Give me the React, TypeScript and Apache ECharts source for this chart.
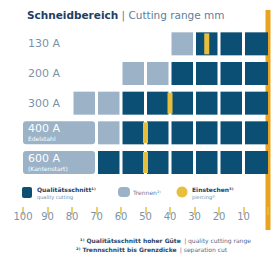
import React, { useEffect, useRef } from 'react';
import * as echarts from 'echarts';

// ---- data ----
const rows = ['130 A', '200 A', '300 A', '400 A', '600 A'];
const rowNotes = ['', '', '', 'Edelstahl', '(Kantenstart)'];
const severanceFrom = [40, 60, 80, 100, 100]; // light range start (mm)
const qualityFrom = [30, 40, 60, 60, 70]; // dark range start (mm)
const pierceAt: (number | null)[] = [25, null, 40, 50, 50];
const boxedTo: (number | null)[] = [null, null, null, 70, 70];
const tickValues = [100, 90, 80, 70, 60, 50, 40, 30, 20, 10];

const DARK = '#0c4f74';
const LIGHT = '#9bb2c7';
const YELLOW = '#e7bf3c';
const ORANGE = '#eaa31f';
const GREY = '#7b93a9';
const NAVY = '#1d3f63';

function buildItems() {
  const items: number[][] = [];
  const split = (a: number, b: number, r: number, k: number) => {
    let hi = a;
    while (hi > b) {
      const lo = Math.max(b, (Math.ceil(hi / 10) - 1) * 10);
      items.push([hi, lo, r, k]);
      hi = lo;
    }
  };
  rows.forEach((_, i) => {
    let lightStart = severanceFrom[i];
    const bt = boxedTo[i];
    if (bt != null) {
      items.push([lightStart, bt, i, 2]);
      lightStart = bt;
    }
    split(lightStart, qualityFrom[i], i, 1);
    split(qualityFrom[i], 0, i, 0);
  });
  rows.forEach((_, i) => {
    const p = pierceAt[i];
    if (p != null) items.push([p, p, i, 3]);
  });
  return items;
}

export default function App() {
  const ref = useRef<HTMLDivElement>(null);
  useEffect(() => {
    if (!ref.current) return;
    const chart = echarts.init(ref.current, null, { renderer: 'svg' });
    const font = 'DejaVu Sans';
    chart.setOption({
      animation: false,
      backgroundColor: '#ffffff',
      textStyle: { fontFamily: font },
      grid: { left: 23, right: 3, top: 29, bottom: 49 },
      xAxis: {
        type: 'value',
        inverse: true,
        min: 0,
        max: 100,
        interval: 10,
        axisLine: { show: false },
        splitLine: { show: false },
        axisTick: { show: true, length: 8, lineStyle: { color: YELLOW, width: 1.5 } },
        axisLabel: {
          color: GREY,
          fontSize: 10,
          margin: 4,
          fontFamily: font,
          formatter: (v: number) => (tickValues.includes(v) ? String(v) : ''),
        },
      },
      yAxis: {
        type: 'category',
        data: [...rows, ''],
        inverse: true,
        z: 10,
        axisLine: { show: false },
        axisTick: { show: false },
        splitLine: { show: false },
        axisLabel: {
          inside: true,
          margin: 5,
          align: 'left',
          formatter: (val: string, idx: number) =>
            rowNotes[idx] ? `{b|${val}}\n{n|${rowNotes[idx]}}` : `{a|${val}}`,
          rich: {
            a: { color: GREY, fontSize: 11, fontFamily: font },
            b: { color: '#ffffff', fontSize: 11, lineHeight: 12, fontFamily: font },
            n: { color: '#ffffff', fontSize: 6, lineHeight: 8, fontFamily: font },
          },
        },
      },
      series: [
        {
          type: 'custom',
          encode: { x: [0, 1], y: 2 },
          data: buildItems(),
          renderItem: (params: any, api: any) => {
            const hi = api.value(0);
            const lo = api.value(1);
            const r = api.value(2);
            const k = api.value(3);
            const pA = api.coord([hi, r]);
            const pB = api.coord([lo, r]);
            const h = 23;
            if (k === 3) {
              return {
                type: 'rect',
                shape: { x: pA[0] - 2.5, y: pA[1] - h / 2 + 1, width: 5, height: h - 2 },
                style: { fill: YELLOW },
                z2: 5,
              };
            }
            const gapL = hi < 100 ? 1.5 : 0;
            const gapR = lo > 0 ? 1.5 : 0;
            const x = pA[0] + gapL;
            const w = pB[0] - gapR - x;
            return {
              type: 'rect',
              shape: { x, y: pA[1] - h / 2, width: w, height: h, r: k === 2 ? 3 : 0 },
              style: { fill: k === 0 ? DARK : LIGHT },
            };
          },
        },
      ],
      graphic: [
        {
          type: 'text',
          left: 27,
          top: 9,
          style: {
            text: '{b|Schneidbereich} {l|| Cutting range mm}',
            rich: {
              b: { fontSize: 10.5, fontWeight: 'bold', fill: NAVY, fontFamily: font },
              l: { fontSize: 10.5, fill: '#5f7d9b', fontFamily: font },
            },
          },
        },
        { type: 'rect', shape: { x: 265.5, y: 10, width: 5, height: 220 }, style: { fill: ORANGE } },
        // legend
        { type: 'rect', shape: { x: 22, y: 187, width: 10, height: 11, r: 2 }, style: { fill: DARK } },
        {
          type: 'text',
          x: 37,
          y: 185,
          style: {
            text: '{a|Qualitätsschnitt¹⁾}\n{c|quality cutting}',
            rich: {
              a: { fontSize: 6, fontWeight: 'bold', fill: NAVY, lineHeight: 8, fontFamily: font },
              c: { fontSize: 5, fill: '#5f8fb5', lineHeight: 7, fontFamily: font },
            },
          },
        },
        { type: 'rect', shape: { x: 118, y: 187, width: 12, height: 10, r: 4 }, style: { fill: LIGHT } },
        {
          type: 'text',
          x: 133,
          y: 189,
          style: { text: 'Trennen²⁾', fontSize: 6, fill: '#5f7d9b', fontFamily: font },
        },
        { type: 'circle', shape: { cx: 182, cy: 192, r: 5.5 }, style: { fill: YELLOW } },
        {
          type: 'text',
          x: 192,
          y: 185,
          style: {
            text: '{a|Einstechen³⁾}\n{c|piercing³⁾}',
            rich: {
              a: { fontSize: 6, fontWeight: 'bold', fill: NAVY, lineHeight: 8, fontFamily: font },
              c: { fontSize: 5, fill: '#5f8fb5', lineHeight: 7, fontFamily: font },
            },
          },
        },
        // footnotes
        {
          type: 'text',
          x: 80,
          y: 234,
          style: {
            text: '{b|¹⁾ Qualitätsschnitt hoher Güte} {r|| quality cutting range}',
            rich: {
              b: { fontSize: 6, fontWeight: 'bold', fill: '#2c4764', fontFamily: font },
              r: { fontSize: 6, fill: '#4f6a88', fontFamily: font },
            },
          },
        },
        {
          type: 'text',
          x: 76,
          y: 243,
          style: {
            text: '{b|²⁾ Trennschnitt bis Grenzdicke} {r|| separation cut}',
            rich: {
              b: { fontSize: 6, fontWeight: 'bold', fill: '#2c4764', fontFamily: font },
              r: { fontSize: 6, fill: '#4f6a88', fontFamily: font },
            },
          },
        },
      ],
    });
    return () => chart.dispose();
  }, []);
  return (
    <div
      ref={ref}
      style={{ position: 'fixed', left: 0, top: 0, width: 271, height: 256, background: '#fff' }}
    />
  );
}
